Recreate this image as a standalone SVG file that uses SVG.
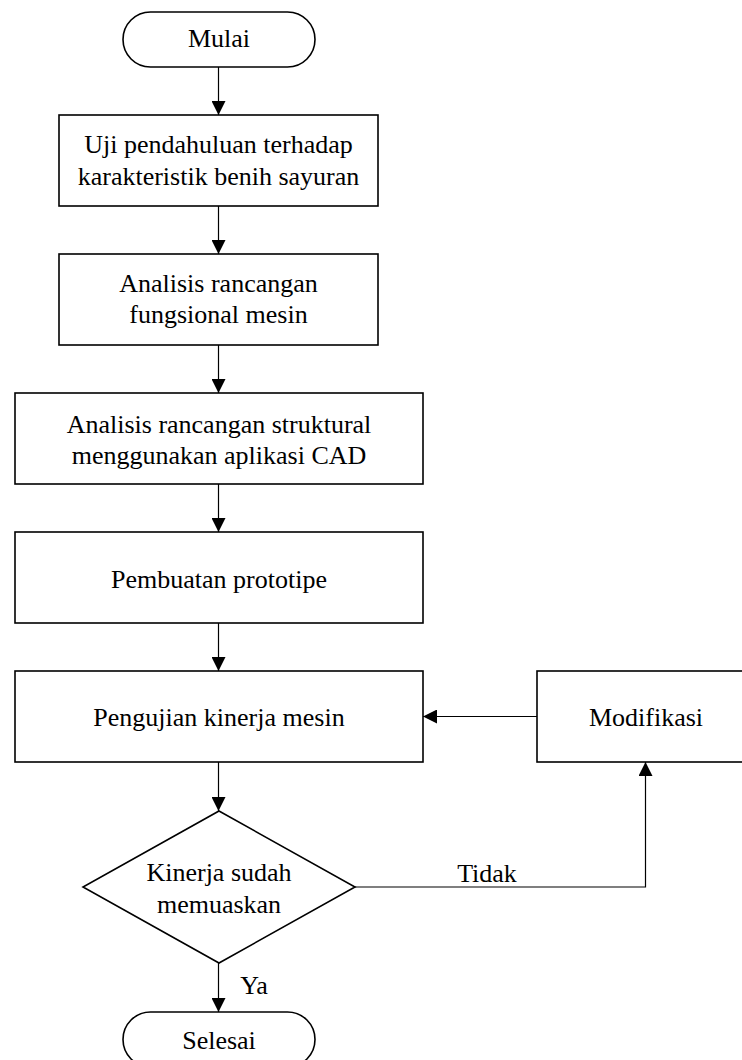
<svg xmlns="http://www.w3.org/2000/svg" width="742" height="1060" viewBox="0 0 742 1060">
<style>
.s{fill:#fff;stroke:#000;stroke-width:1.6}
.t{font-family:"Liberation Serif","Times New Roman",serif;font-size:26px;fill:#000;text-anchor:middle}
.c{fill:none;stroke:#000;stroke-width:1.2}
</style>
<defs>
<marker id="ah" markerWidth="14" markerHeight="14" refX="14" refY="7" orient="auto" markerUnits="userSpaceOnUse">
<path d="M0,0 L14,7 L0,14 Z" fill="#000"/>
</marker>
</defs>
<rect width="742" height="1060" fill="#fff"/>
<g id="connectors">
<line class="c" x1="218.5" y1="67" x2="218.5" y2="115" marker-end="url(#ah)"/>
<line class="c" x1="218.5" y1="206" x2="218.5" y2="254" marker-end="url(#ah)"/>
<line class="c" x1="218.5" y1="345" x2="218.5" y2="393" marker-end="url(#ah)"/>
<line class="c" x1="218.5" y1="484" x2="218.5" y2="532" marker-end="url(#ah)"/>
<line class="c" x1="218.5" y1="623" x2="218.5" y2="671" marker-end="url(#ah)"/>
<line class="c" x1="218.5" y1="762" x2="218.5" y2="811" marker-end="url(#ah)"/>
<line class="c" x1="218.5" y1="963" x2="218.5" y2="1012" marker-end="url(#ah)"/>
<line class="c" x1="537" y1="716.5" x2="423" y2="716.5" marker-end="url(#ah)"/>
<polyline class="c" points="355,887 645.5,887 645.5,762" marker-end="url(#ah)"/>
<text class="t" x="487" y="882">Tidak</text>
<text class="t" x="254" y="994">Ya</text>
</g>
<g id="mulai">
<rect class="s" x="123" y="12" width="192" height="55" rx="27.5" ry="27.5"/>
<text class="t" x="219" y="47">Mulai</text>
</g>
<g id="uji">
<rect class="s" x="59" y="115" width="319" height="91"/>
<text class="t" x="218.5" y="153">Uji pendahuluan terhadap</text>
<text class="t" x="218.5" y="185">karakteristik benih sayuran</text>
</g>
<g id="fungsional">
<rect class="s" x="59" y="254" width="319" height="91"/>
<text class="t" x="218.5" y="292">Analisis rancangan</text>
<text class="t" x="218.5" y="323">fungsional mesin</text>
</g>
<g id="struktural">
<rect class="s" x="15" y="393" width="408" height="91"/>
<text class="t" x="219" y="433">Analisis rancangan struktural</text>
<text class="t" x="219" y="464">menggunakan aplikasi CAD</text>
</g>
<g id="prototipe">
<rect class="s" x="15" y="532" width="408" height="91"/>
<text class="t" x="219" y="588">Pembuatan prototipe</text>
</g>
<g id="pengujian">
<rect class="s" x="15" y="671" width="408" height="91"/>
<text class="t" x="219" y="726">Pengujian kinerja mesin</text>
</g>
<g id="modifikasi">
<rect class="s" x="537" y="671" width="220" height="91"/>
<text class="t" x="646" y="726">Modifikasi</text>
</g>
<g id="keputusan">
<polygon class="s" points="219,811 355,887 219,963 83,887"/>
<text class="t" x="219" y="881">Kinerja sudah</text>
<text class="t" x="219" y="913">memuaskan</text>
</g>
<g id="selesai">
<rect class="s" x="123" y="1012" width="192" height="55" rx="27.5" ry="27.5"/>
<text class="t" x="219" y="1049">Selesai</text>
</g>
</svg>
